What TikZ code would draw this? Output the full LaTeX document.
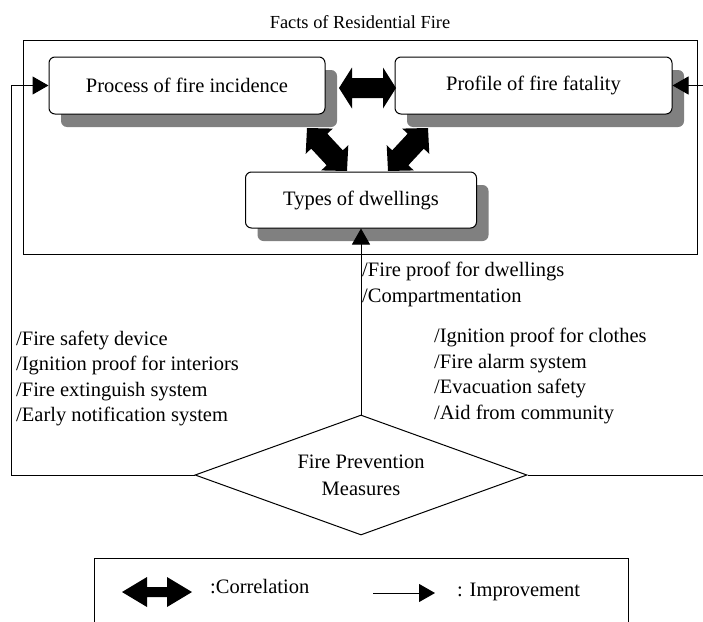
\documentclass[tikz,border=0pt]{standalone}
\usepackage{fontspec}
\setmainfont{Liberation Serif}
\usetikzlibrary{arrows.meta,shapes.geometric,shadows,calc}
\definecolor{shadowgray}{RGB}{128,128,128}
\newcommand\myfont{\fontsize{20.5}{27}\selectfont}
\newcommand\mytitlefont{\fontsize{18.4}{22}\selectfont}
% fat double arrow: from A to B, head length, head half width, shaft half width
\newcommand\fatdbl[5]{%
  \path coordinate (fdH1) at ($(#1)!#3!(#2)$) coordinate (fdH2) at ($(#2)!#3!(#1)$);
  \fill (#1) -- ($(fdH1)!#4!90:(#2)$) -- ($(fdH1)!#5!90:(#2)$)
    -- ($(fdH2)!#5!-90:(#1)$) -- ($(fdH2)!#4!-90:(#1)$) -- (#2)
    -- ($(fdH2)!#4!90:(#1)$) -- ($(fdH2)!#5!90:(#1)$)
    -- ($(fdH1)!#5!-90:(#2)$) -- ($(fdH1)!#4!-90:(#2)$) -- cycle;}
\tikzset{
  box/.style={draw, line width=1pt, fill=white, rounded corners=6pt,
    minimum height=57pt, inner sep=0pt, font=\myfont,
    drop shadow={shadow xshift=12pt, shadow yshift=-13pt, fill=shadowgray, opacity=1}},
  txt/.style={anchor=base west, inner sep=0pt, font=\myfont},
  imp/.style={line width=1pt, -{Triangle[length=16pt,width=18pt]}},
  frame/.style={line width=1pt},
}
\begin{document}
\begin{tikzpicture}[x=1pt,y=-1pt]
\useasboundingbox (0,0) rectangle (703,621);
\fill[white] (0,0) rectangle (703,621);

% title and frame
\node[anchor=base, inner sep=0pt, font=\mytitlefont] (ttl) at (360,28) {Facts of Residential Fire};
\draw[frame] (23,40) rectangle (697,254);

% boxes
\node[box, minimum width=276pt] (p1) at (187,85.5) {Process of fire incidence};
\node[box, minimum width=277pt] (p2) at (533.5,85.5) {Profile of fire fatality};
\node[box, minimum width=231pt, minimum height=56pt] (t3) at (361,200) {Types of dwellings};

% correlation arrows
\coordinate (h1) at (339,88); \coordinate (h2) at (396,88);
\fatdbl{h1}{h2}{13pt}{20.5pt}{10pt}
\coordinate (d1) at (307,128); \coordinate (d2) at (347,171);
\fatdbl{d1}{d2}{18pt}{18.5pt}{11pt}
\coordinate (e1) at (428,128); \coordinate (e2) at (388,171);
\fatdbl{e1}{e2}{18pt}{18.5pt}{11pt}

% diamond
\node[diamond, draw, line width=1pt, fill=white, minimum width=332pt, minimum height=120pt,
  aspect=2.77, inner sep=0pt, align=center, font=\myfont] (dia) at (361,475) {Fire Prevention\\Measures};

% improvement connectors
\coordinate (lx) at (11,475);
\coordinate (rx) at (706,475);
\draw[imp] (dia.west) -- (lx) |- (p1.west);
\draw[imp] (dia.east) -- (rx) |- (p2.east);
\draw[imp] (dia.north) -- (t3.south);

% labels
\node[txt] (a1) at (16,345) {/Fire safety device};
\node[txt] (a2) at (16,370.5) {/Ignition proof for interiors};
\node[txt] (a3) at (16,396) {/Fire extinguish system};
\node[txt] (a4) at (16,421.5) {/Early notification system};
\node[txt] (m1) at (362,276) {/Fire proof for dwellings};
\node[txt] (m2) at (362,302) {/Compartmentation};
\node[txt] (b1) at (434,342) {/Ignition proof for clothes};
\node[txt] (b2) at (434,368) {/Fire alarm system};
\node[txt] (b3) at (434,393.5) {/Evacuation safety};
\node[txt] (b4) at (434,419) {/Aid from community};

% legend
\draw[frame] (94,558) rectangle (628,630);
\coordinate (la1) at (122,592); \coordinate (la2) at (192,592);
\fatdbl{la1}{la2}{25pt}{15pt}{5pt}
\node[txt] (lc) at (210,593) {:Correlation};
\coordinate (lb1) at (373,593); \coordinate (lb2) at (435,593);
\draw[imp] (lb1) -- (lb2);
\node[txt] (li) at (457,596) {: Improvement};
\end{tikzpicture}
\end{document}
